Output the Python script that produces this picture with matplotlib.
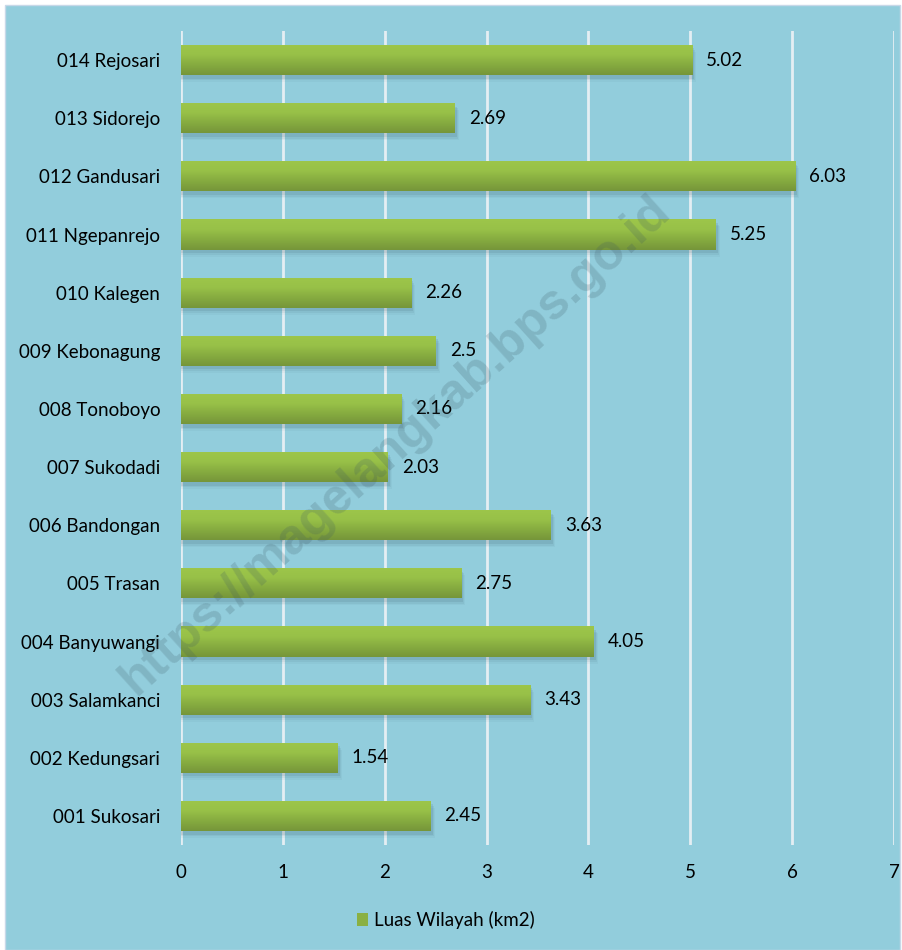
import numpy as np
import matplotlib
matplotlib.use("Agg")
import matplotlib.pyplot as plt
from matplotlib.patches import Rectangle, Patch
from matplotlib.colors import LinearSegmentedColormap

categories = ["001 Sukosari", "002 Kedungsari", "003 Salamkanci", "004 Banyuwangi",
              "005 Trasan", "006 Bandongan", "007 Sukodadi", "008 Tonoboyo",
              "009 Kebonagung", "010 Kalegen", "011 Ngepanrejo", "012 Gandusari",
              "013 Sidorejo", "014 Rejosari"]
values = [2.45, 1.54, 3.43, 4.05, 2.75, 3.63, 2.03, 2.16, 2.5, 2.26, 5.25, 6.03, 2.69, 5.02]
value_labels = ["2.45", "1.54", "3.43", "4.05", "2.75", "3.63", "2.03", "2.16",
                "2.5", "2.26", "5.25", "6.03", "2.69", "5.02"]
xticks = [0, 1, 2, 3, 4, 5, 6, 7]
series_name = "Luas Wilayah (km2)"
watermark = "https://magelangkab.bps.go.id"

plt.rcParams['font.family'] = ['Lato', 'DejaVu Sans']
FS = 13.5

W, H = 903, 950
fig = plt.figure(figsize=(W / 100, H / 100), dpi=100, facecolor="white")
bg = "#92CDDC"
fig.patches.append(Rectangle((5 / W, 0), (900 - 5) / W, (H - 5) / H, transform=fig.transFigure,
                             facecolor=bg, edgecolor="#C8D8E8", lw=1, zorder=-10))

ax = fig.add_axes([181 / W, 1 - 845 / H, (894 - 181) / W, (845 - 31) / H])
ax.set_facecolor(bg)
ax.patch.set_alpha(0)
for s in ax.spines.values():
    s.set_visible(False)

y = np.arange(len(categories))
bh = 0.52

# shadow
for dx, dy, a in [(0.02, -0.06, 0.10), (0.03, -0.09, 0.07), (0.04, -0.12, 0.04)]:
    ax.barh(y + dy, np.array(values) + dx, height=bh, color="#2b4a55", alpha=a, zorder=2, lw=0)

bars = ax.barh(y, values, height=bh, color="#8AB043", zorder=3, lw=0)
grad = np.linspace(0, 1, 100).reshape(-1, 1)
cmap = LinearSegmentedColormap.from_list("g", ["#9DC64A", "#98C148", "#86AB40", "#76963A"])
for b in bars:
    x0, y0, w, h = b.get_x(), b.get_y(), b.get_width(), b.get_height()
    im = ax.imshow(grad, extent=(x0, x0 + w, y0, y0 + h), origin="upper", cmap=cmap,
                   aspect="auto", zorder=4)
    im.set_clip_path(b)

ax.set_xlim(0, 7)
ax.set_ylim(-0.5, len(categories) - 0.5)

ax.set_xticks(xticks)
ax.set_xticklabels([str(t) for t in xticks])
ax.set_yticks(y)
ax.set_yticklabels(categories)
ax.tick_params(axis="x", length=0, pad=14, labelsize=FS, colors="black")
ax.tick_params(axis="y", length=0, pad=15, labelsize=FS, colors="black")
ax.xaxis.grid(True, color="#E4EEF3", lw=2, zorder=1)
ax.set_axisbelow(True)

for yi, v, lab in zip(y, values, value_labels):
    ax.annotate(lab, (v, yi), xytext=(14, 0), textcoords="offset pixels",
                va="center", ha="left", fontsize=FS, color="black", zorder=6)

fig.legend(handles=[Patch(facecolor="#8AB043", edgecolor="none")], labels=[series_name],
           loc="center", bbox_to_anchor=(446 / W, 1 - 920 / H), frameon=False,
           fontsize=FS, handlelength=0.6, handleheight=0.7, handletextpad=0.3)

fig.text(395 / W, 1 - 445 / H, watermark, rotation=42, ha="center", va="center",
         fontsize=36, fontweight="bold", color="#3a5560", alpha=0.2,
         family=["Liberation Sans", "DejaVu Sans"], zorder=10)

fig.savefig("out.png", dpi=100, facecolor="white")
